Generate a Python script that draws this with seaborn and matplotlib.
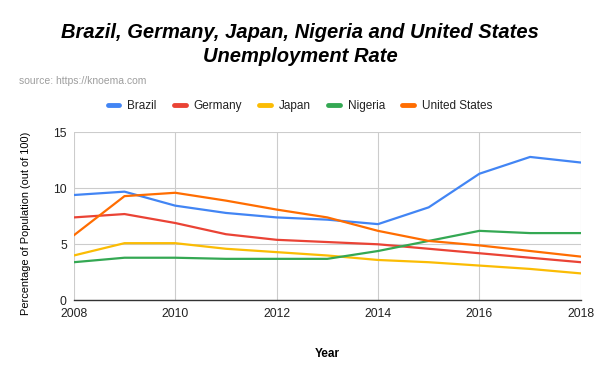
import matplotlib
matplotlib.use("Agg")
import matplotlib.pyplot as plt
import seaborn as sns
import pandas as pd

# ── Data ─────────────────────────────────────────────────────────────────────
YEARS = list(range(2008, 2019))
COUNTRIES = ["Brazil", "Germany", "Japan", "Nigeria", "United States"]
brazil = [9.4, 9.7, 8.45, 7.8, 7.4, 7.2, 6.8, 8.3, 11.3, 12.8, 12.3]
germany = [7.4, 7.7, 6.9, 5.9, 5.4, 5.2, 5.0, 4.6, 4.2, 3.8, 3.4]
japan = [4.0, 5.1, 5.1, 4.6, 4.3, 4.0, 3.6, 3.4, 3.1, 2.8, 2.4]
nigeria = [3.4, 3.8, 3.8, 3.7, 3.7, 3.7, 4.4, 5.3, 6.2, 6.0, 6.0]
united_states = [5.8, 9.3, 9.6, 8.9, 8.1, 7.4, 6.2, 5.3, 4.9, 4.4, 3.9]
X_TICKS = [2008, 2010, 2012, 2014, 2016, 2018]
Y_TICKS = [0, 5, 10, 15]

COLORS = {
    "Brazil": "#4285F4",
    "Germany": "#EA4335",
    "Japan": "#FBBC04",
    "Nigeria": "#34A853",
    "United States": "#FF6D01",
}

series = [brazil, germany, japan, nigeria, united_states]
rows = []
for name, vals in zip(COUNTRIES, series):
    for yr, v in zip(YEARS, vals):
        rows.append({"Year": yr, "Rate": v, "Country": name})
df = pd.DataFrame(rows)

# ── Plot ─────────────────────────────────────────────────────────────────────
sns.set_style("white")
plt.rcParams["font.family"] = ["Liberation Sans", "DejaVu Sans"]

fig = plt.figure(figsize=(6, 3.71), dpi=100)
ax = fig.add_axes([0.123, 0.1906, 0.845, 0.4528])

sns.lineplot(data=df, x="Year", y="Rate", hue="Country", hue_order=COUNTRIES,
             palette=COLORS, linewidth=1.6, ax=ax, legend=False)

ax.set_xlim(2008, 2018)
ax.set_ylim(0, 15)
ax.set_xticks(X_TICKS)
ax.set_yticks(Y_TICKS)
ax.grid(True, color="#cccccc", linewidth=0.8)
ax.set_axisbelow(True)
for side in ["top", "right", "left"]:
    ax.spines[side].set_visible(False)
ax.spines["bottom"].set_color("#333333")
ax.spines["bottom"].set_linewidth(1.0)
ax.tick_params(axis="both", length=0, labelsize=8.7, colors="#222222")
ax.tick_params(axis="y", pad=5)
ax.tick_params(axis="x", pad=5.5)

ax.set_xlabel("Year", fontsize=8.5, fontweight="bold", color="black")
ax.xaxis.set_label_coords(0.5, -0.285)
ax.set_ylabel("Percentage of Population (out of 100)", fontsize=7.9, color="black")
ax.yaxis.set_label_coords(-0.085, 0.458)

fig.text(0.5, 0.8968, "Brazil, Germany, Japan, Nigeria and United States",
         ha="center", va="baseline", fontsize=14.5, fontweight="bold",
         style="italic", color="black")
fig.text(0.5, 0.8337, "Unemployment Rate",
         ha="center", va="baseline", fontsize=14.5, fontweight="bold",
         style="italic", color="black")
fig.text(0.032, 0.782, "source: https://knoema.com", fontsize=7.5, color="#9e9e9e",
         va="center")

handles = [plt.Line2D([0], [0], color=COLORS[c], linewidth=3.5) for c in COUNTRIES]
leg = fig.legend(handles, COUNTRIES, loc="center", bbox_to_anchor=(0.5, 0.715), ncol=5,
                 frameon=False, fontsize=8.5, handlelength=1.0, handletextpad=0.68,
                 columnspacing=1.44)
for t in leg.get_texts():
    t.set_color("#222222")

fig.savefig("out.png", dpi=100)
